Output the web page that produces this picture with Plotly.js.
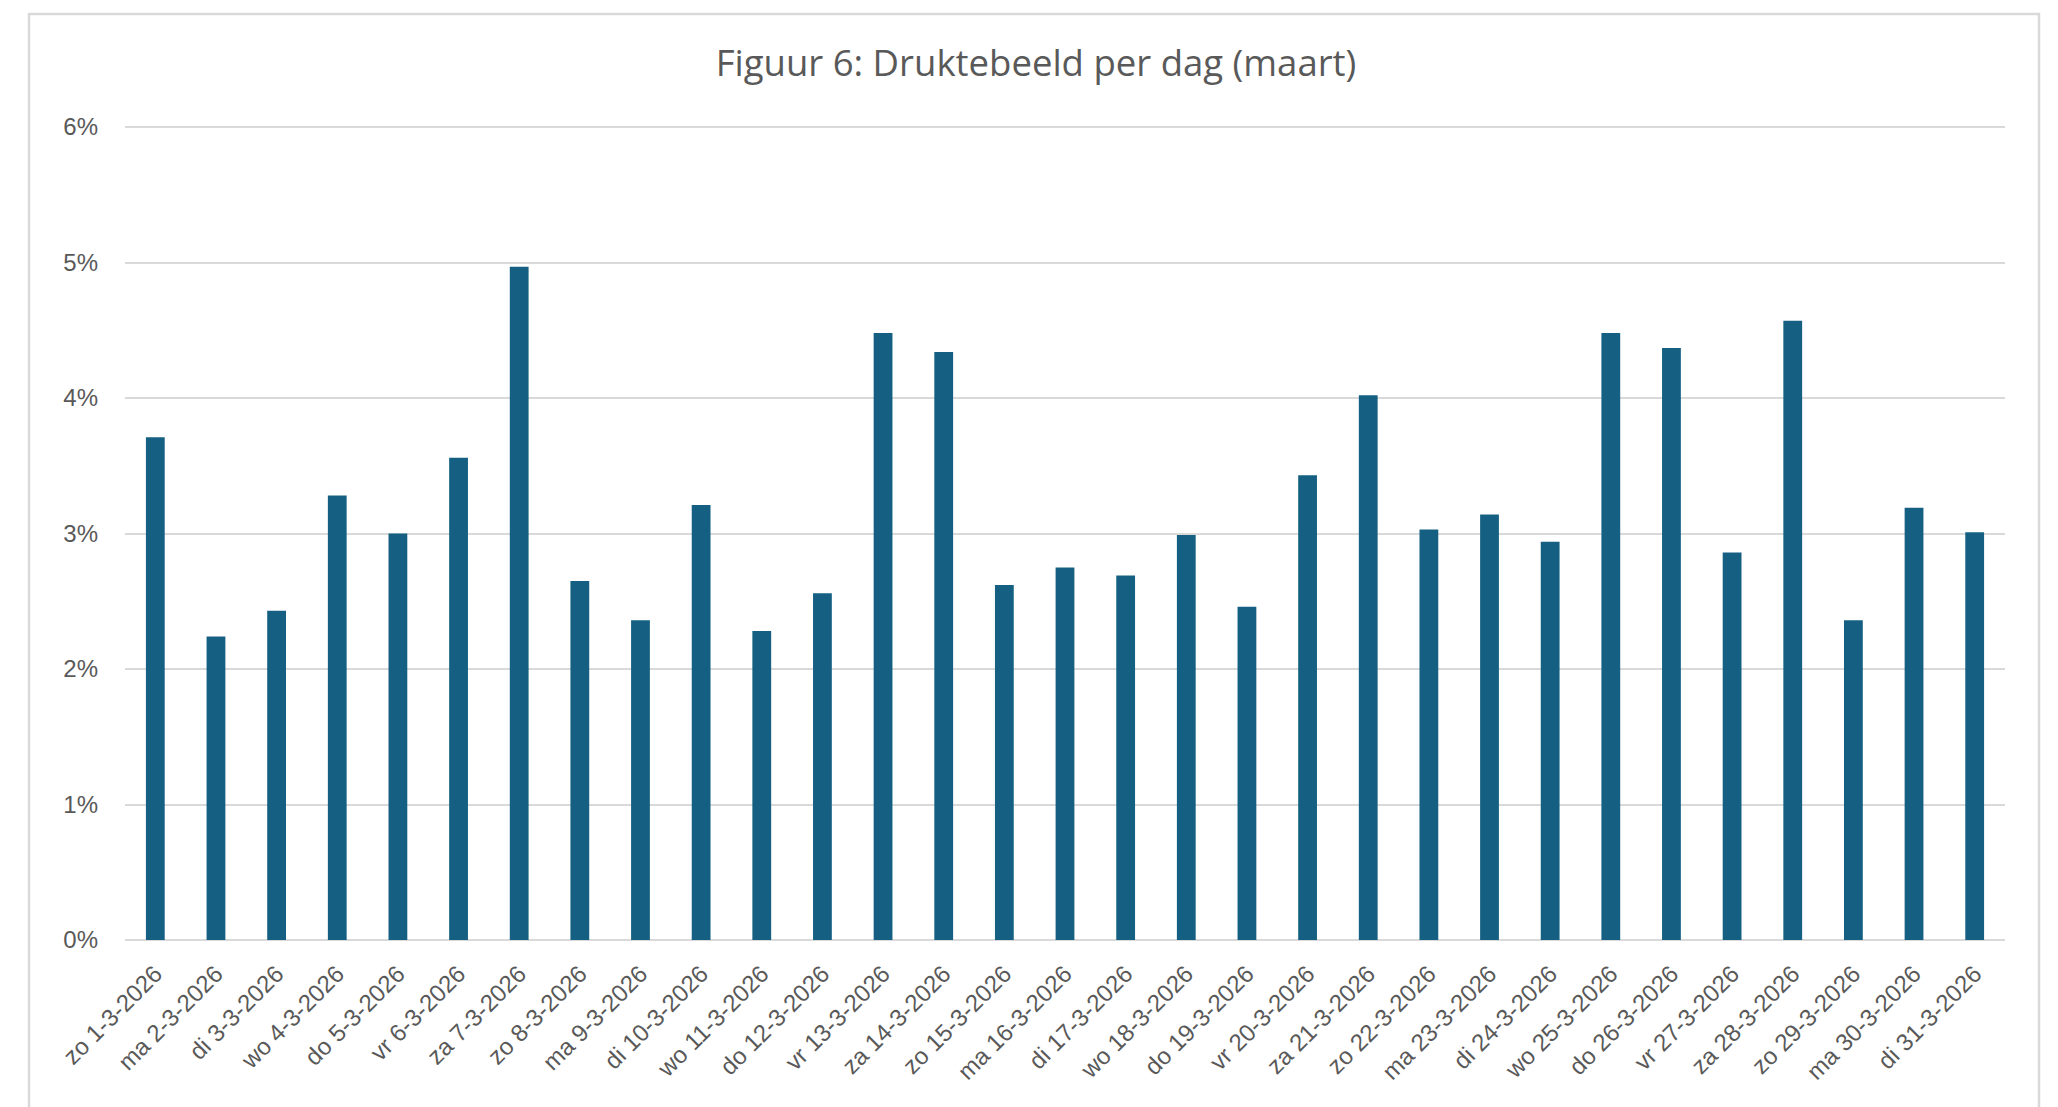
<!DOCTYPE html>
<html>
<head>
<meta charset="utf-8">
<script src="https://cdn.plot.ly/plotly-3.0.1.min.js"></script>
<style>
  html, body { margin: 0; padding: 0; background: #ffffff; }
  #graph { width: 2058px; height: 1107px; }
</style>
</head>
<body>
<div id="graph"></div>
<script>
// Figuur 6: druktebeeld per dag in maart 2026 (aandeel per dag, in %)
var days = ["zo", "ma", "di", "wo", "do", "vr", "za"];
var dates = [];
for (var d = 1; d <= 31; d++) {
  // 1 maart 2026 is een zondag
  dates.push(days[(d - 1) % 7] + " " + d + "-3-2026");
}

var share = [
  3.71, 2.24, 2.43, 3.28, 3.00, 3.56, 4.97, 2.65, 2.36, 3.21,
  2.28, 2.56, 4.48, 4.34, 2.62, 2.75, 2.69, 2.99, 2.46, 3.43,
  4.02, 3.03, 3.14, 2.94, 4.48, 4.37, 2.86, 4.57, 2.36, 3.19,
  3.01
];

var yTicks = [0, 1, 2, 3, 4, 5, 6];
var yTickText = ["0%", "1%", "2%", "3%", "4%", "5%", "6%"];

var barColor = "#156082";
var gridColor = "#d9d9d9";
var textColor = "#595959";

function renderChart() {
  var data = [{
    x: dates,
    y: share,
    type: "bar",
    marker: { color: barColor, line: { width: 0 } },
    hoverinfo: "x+y"
  }];

  var layout = {
    width: 2058,
    height: 1107,
    paper_bgcolor: "#ffffff",
    plot_bgcolor: "#ffffff",
    margin: { l: 125, r: 53, t: 126, b: 167 },
    bargap: 0.69,
    showlegend: false,
    title: {
      text: "Figuur 6: Druktebeeld per dag (maart)",
      xref: "container",
      x: 1036 / 2058,
      xanchor: "center",
      yref: "container",
      y: 1 - 63 / 1107,
      yanchor: "middle",
      font: { family: "Open Sans, sans-serif", size: 36.5, color: textColor }
    },
    xaxis: {
      type: "category",
      tickangle: -45,
      showgrid: false,
      showline: false,
      ticks: "",
      ticklabelstandoff: 14,
      tickfont: { family: "Liberation Sans, Arial, sans-serif", size: 24, color: textColor },
      automargin: false
    },
    yaxis: {
      range: [0, 6.008],
      tickvals: yTicks,
      ticktext: yTickText,
      showgrid: true,
      gridcolor: gridColor,
      gridwidth: 2,
      zeroline: true,
      zerolinecolor: gridColor,
      zerolinewidth: 2,
      showline: false,
      ticks: "",
      ticklabelstandoff: 26,
      tickfont: { family: "Liberation Sans, Arial, sans-serif", size: 24, color: textColor },
      automargin: false
    },
    shapes: [{
      // lichte kader rond de grafiek
      type: "rect",
      xref: "paper",
      yref: "paper",
      x0: (29 - 125) / 1880,
      x1: (2039 - 125) / 1880,
      y0: -0.3,
      y1: (940 - 14) / 814,
      line: { color: gridColor, width: 2.5 },
      fillcolor: "rgba(0,0,0,0)",
      layer: "below"
    }]
  };

  Plotly.newPlot(document.getElementById("graph"), data, layout, { displayModeBar: false, staticPlot: true });
}

renderChart();
</script>
</body>
</html>
